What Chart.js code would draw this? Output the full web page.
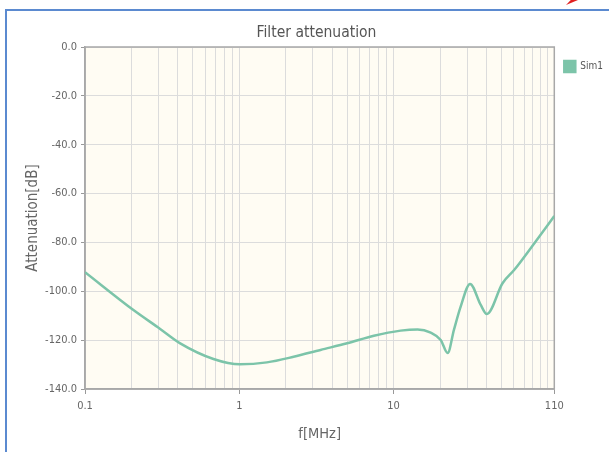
<!DOCTYPE html>
<html><head><meta charset="utf-8">
<script src="https://cdn.jsdelivr.net/npm/chart.js@4/dist/chart.umd.min.js"></script>
<style>
html,body{margin:0;padding:0;background:#fff;width:609px;height:452px;overflow:hidden}
#frame{position:absolute;left:5px;top:9px;width:700px;height:600px;border:2px solid #5b8ad0;box-sizing:border-box}
#mark{position:absolute;left:566px;top:0;width:12px;height:5px;background:#e02020;clip-path:polygon(0 100%,100% 0,40% 0)}
#wrap{position:absolute;left:0;top:0;width:609px;height:452px}
</style></head><body>
<div id="frame"></div><div id="mark"></div>
<div id="wrap"><canvas id="c" width="609" height="452"></canvas></div>
<script>
const freqMHz = [0.1, 0.206, 0.307, 0.414, 0.68, 1.01, 1.51, 2.25, 3.36, 5.0, 7.45, 11.1, 14.3, 17.4, 20.2, 22.4, 24.6, 27.2, 31.3, 36.7, 40.2, 50.8, 60.4, 81.5, 110];
const attenuationDb = [-92.2, -107.7, -115.4, -121.3, -127.7, -129.9, -129.1, -126.8, -124.0, -121.3, -118.2, -116.1, -115.6, -116.9, -119.9, -125.3, -115.8, -106.3, -97.0, -105.6, -109.3, -96.7, -91.3, -80.4, -69.2];
const seriesName = 'Sim1';
const yTickValues = [0, -20, -40, -60, -80, -100, -120, -140];
const xLabelValues = [0.1, 1, 10, 110];
const xGridValues = [0.1, 0.2, 0.3, 0.4, 0.5, 0.6, 0.7, 0.8, 0.9, 1, 2, 3, 4, 5, 6, 7, 8, 9, 10, 20, 30, 40, 50, 60, 70, 80, 90, 100, 110];

const FONT = "'DejaVu Sans Condensed','Liberation Sans Narrow','DejaVu Sans',sans-serif";

const plotFrame = {
  id: 'plotFrame',
  afterLayout(chart) {
    const l = chart.legend;
    if (l) { l.top += 4; l.bottom += 4; }
  },
  beforeDraw(chart) {
    const { ctx, chartArea: a } = chart;
    ctx.save();
    ctx.fillStyle = '#fffcf3';
    ctx.fillRect(a.left, a.top, a.width, a.height);
    ctx.restore();
  },
  beforeDatasetsDraw(chart) {
    const { ctx, chartArea: a } = chart;
    ctx.save();
    ctx.strokeStyle = '#a8a8a8';
    ctx.lineWidth = 1.5;
    ctx.strokeRect(a.left, a.top, a.width, a.height);
    ctx.restore();
  }
};

new Chart(document.getElementById('c'), {
  type: 'line',
  data: {
    datasets: [{
      label: seriesName,
      data: freqMHz.map((f, i) => ({ x: f, y: attenuationDb[i] })),
      borderColor: '#7cc4a9',
      backgroundColor: '#7cc4a9',
      borderWidth: 2.5,
      pointRadius: 0,
      cubicInterpolationMode: 'monotone',
      fill: false
    }]
  },
  options: {
    responsive: false,
    animation: false,
    layout: { padding: { left: 20, top: 23.7, right: -4, bottom: 8 } },
    plugins: {
      title: {
        display: true,
        text: 'Filter attenuation',
        color: '#555',
        font: { family: FONT, size: 15.5, weight: 'normal' },
        padding: { top: 0, bottom: 4.7 }
      },
      legend: {
        position: 'right',
        align: 'start',
        fullSize: false,
        labels: {
          boxWidth: 11,
          boxHeight: 11,
          color: '#555',
          font: { family: FONT, size: 10 },
          padding: 10
        }
      },
      tooltip: { enabled: false }
    },
    scales: {
      x: {
        type: 'logarithmic',
        min: 0.1,
        max: 110,
        afterBuildTicks(scale) { scale.ticks = xGridValues.map(v => ({ value: v })); },
        afterFit(scale) { scale.height = 55; },
        ticks: {
          autoSkip: false,
          maxRotation: 0,
          color: '#666',
          padding: 6,
          font: { family: FONT, size: 11 },
          callback(v) { return xLabelValues.includes(v) ? String(v) : ''; }
        },
        grid: {
          color: '#dcdcdc',
          tickLength: 5,
          tickColor(ctx) { return ctx.tick && xLabelValues.includes(ctx.tick.value) ? '#999' : 'rgba(0,0,0,0)'; }
        },
        border: { color: '#a8a8a8', width: 1.5 },
        title: {
          display: true,
          text: 'f[MHz]',
          color: '#666',
          font: { family: FONT, size: 14.5 },
          padding: { top: 0, bottom: 1 }
        }
      },
      y: {
        min: -140,
        max: 0,
        afterBuildTicks(scale) { scale.ticks = yTickValues.map(v => ({ value: v })); },
        afterFit(scale) { scale.width = 65; },
        ticks: {
          color: '#666',
          padding: 4,
          font: { family: FONT, size: 11 },
          callback(v) { return Number(v).toFixed(1); }
        },
        grid: { color: '#dcdcdc', tickLength: 4, tickColor: '#999' },
        border: { color: '#a8a8a8', width: 1.5 },
        title: {
          display: true,
          text: 'Attenuation[dB]',
          color: '#666',
          font: { family: FONT, size: 15 },
          padding: { top: 4.5, bottom: 0 }
        }
      }
    }
  },
  plugins: [plotFrame]
});
</script>
</body></html>
